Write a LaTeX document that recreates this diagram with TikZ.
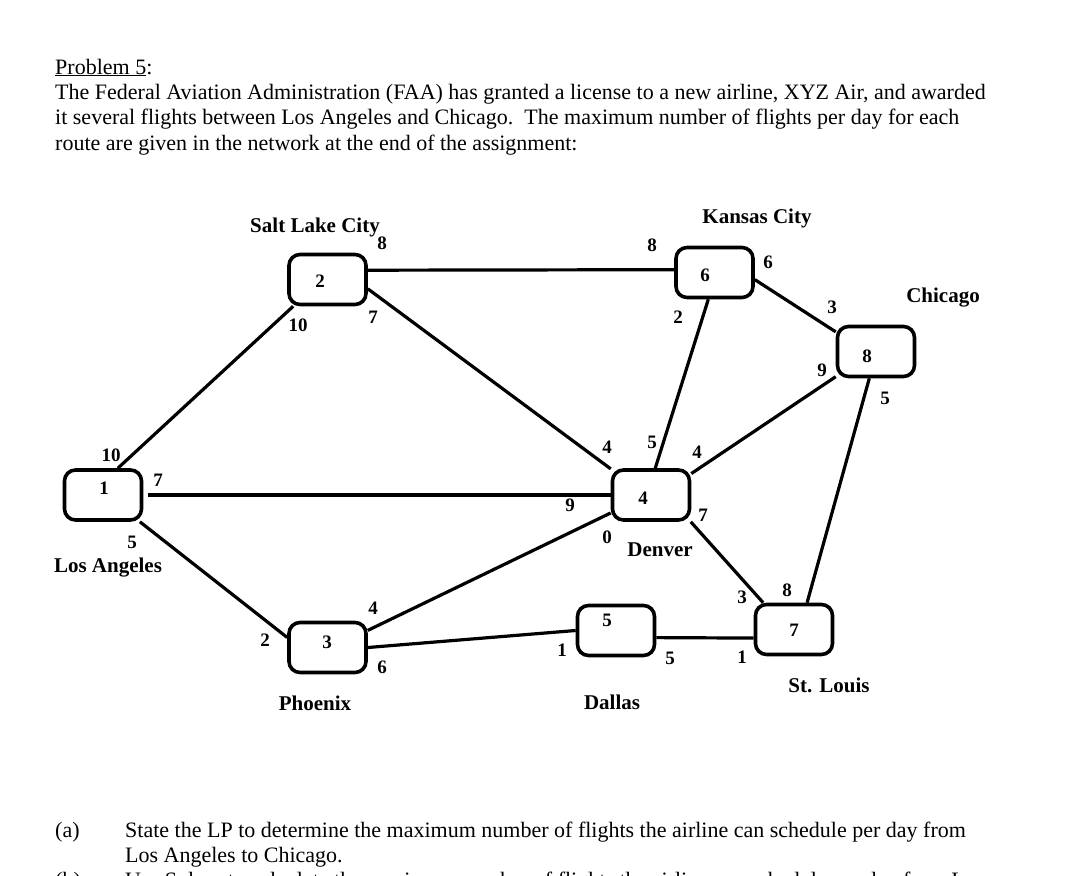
\documentclass[tikz,border=0pt]{standalone}
\usepackage{fontspec}
\setmainfont{Liberation Serif}
\begin{document}
\begin{tikzpicture}[x=1pt,y=-1pt,
  city/.style={draw, line width=3.6pt, rounded corners=11pt, minimum width=77pt, minimum height=50pt, inner sep=0pt},
  num/.style={font=\fontsize{19}{20}\selectfont\bfseries, inner sep=0pt},
  cityname/.style={font=\fontsize{21}{22}\selectfont\bfseries, inner sep=0pt},
  route/.style={line width=3.2pt},
  bodytext/.style={font=\fontsize{22}{24}\selectfont, inner sep=0pt, anchor=base west},
]
\useasboundingbox (0,0) rectangle (1088,876);
\clip (0,0) rectangle (1088,876);

% text
\node[bodytext] (t0) at (55,74) {\underline{Problem 5}:};
\node[bodytext] (t1) at (55,99) {The Federal Aviation Administration (FAA) has granted a license to a new airline, XYZ Air, and awarded};
\node[bodytext] (t2) at (55,124.5) {it several flights between Los Angeles and Chicago.\ \ The maximum number of flights per day for each};
\node[bodytext] (t3) at (55,150) {route are given in the network at the end of the assignment:};
\node[bodytext] (ta) at (55,837) {(a)};
\node[bodytext] (tal) at (125,837) {State the LP to determine the maximum number of flights the airline can schedule per day from};
\node[bodytext] (ta2) at (125,862) {Los Angeles to Chicago.};
\node[bodytext] (tb) at (55,887) {(b)};
\node[bodytext] (tbl) at (125,887) {Use Solver to calculate the maximum number of flights the airline can schedule per day from Los};

% boxes
\node[city] (la)  at (103,495) {};
\node[city] (slc) at (327.5,279.5) {};
\node[city] (kc)  at (714.5,272.5) {};
\node[city] (chi) at (876,351.5) {};
\node[city] (den) at (651,495) {};
\node[city] (phx) at (327.5,647.5) {};
\node[city] (dal) at (616,630.5) {};
\node[city] (stl) at (794,629.5) {};

% box numbers
\node[num] (n1) at (104,488) {1};
\node[num] (n2) at (320,281) {2};
\node[num] (n6) at (705,275) {6};
\node[num] (n8) at (867,356) {8};
\node[num] (n4) at (643,498) {4};
\node[num] (n3) at (327,642) {3};
\node[num] (n5) at (607,620) {5};
\node[num] (n7) at (794,630) {7};

% routes
\draw[route] (la.61) -- (slc.-142.5);
\draw[route] ([xshift=5pt]la.east) -- (den.west);
\draw[route] (la.-36) -- (phx.166.6);
\draw[route] (slc.13) -- (kc.176.5);
\draw[route] (slc.-13) -- (den.147);
\draw[route] (kc.-103) -- (den.81.6);
\draw[route] (kc.-10) -- (chi.154.6);
\draw[route] (den.28) -- (chi.-148);
\draw[route] (chi.-104.8) -- (stl.64.7);
\draw[route] (den.-34) -- (stl.139.5);
\draw[route] (phx.23.4) -- (den.-156);
\draw[route] (phx.east) -- (dal.west);
\draw[route] (dal.-10) -- (stl.-168);

% capacity labels
\node[num] (c1) at (111,455) {10};
\node[num] (c2) at (158,480) {7};
\node[num] (c3) at (132,542) {5};
\node[num] (c4) at (382,243) {8};
\node[num] (c5) at (298,325) {10};
\node[num] (c6) at (373,317) {7};
\node[num] (c7) at (652,245) {8};
\node[num] (c8) at (768,262) {6};
\node[num] (c9) at (678,317) {2};
\node[num] (c10) at (832,307) {3};
\node[num] (c11) at (822,370) {9};
\node[num] (c12) at (885,398) {5};
\node[num] (c13) at (607,447) {4};
\node[num] (c14) at (652,442) {5};
\node[num] (c15) at (697,452) {4};
\node[num] (c16) at (570,505) {9};
\node[num] (c17) at (607,537) {0};
\node[num] (c18) at (703,515) {7};
\node[num] (c19) at (265,640) {2};
\node[num] (c20) at (373,608) {4};
\node[num] (c21) at (382,667) {6};
\node[num] (c22) at (562,650) {1};
\node[num] (c23) at (670,658) {5};
\node[num] (c24) at (742,597) {3};
\node[num] (c25) at (787,590) {8};
\node[num] (c26) at (742,657) {1};

% city names
\node[cityname] (lan) at (108,568) {Los Angeles};
\node[cityname] (slcn) at (315,227) {Salt Lake City};
\node[cityname] (kcn) at (757,218) {Kansas City};
\node[cityname] (chin) at (943,298) {Chicago};
\node[cityname] (denn) at (660,550) {Denver};
\node[cityname] (phxn) at (315,703) {Phoenix};
\node[cityname] (daln) at (612,702) {Dallas};
\node[cityname] (stln) at (829,685) {St. Louis};
\end{tikzpicture}
\end{document}
